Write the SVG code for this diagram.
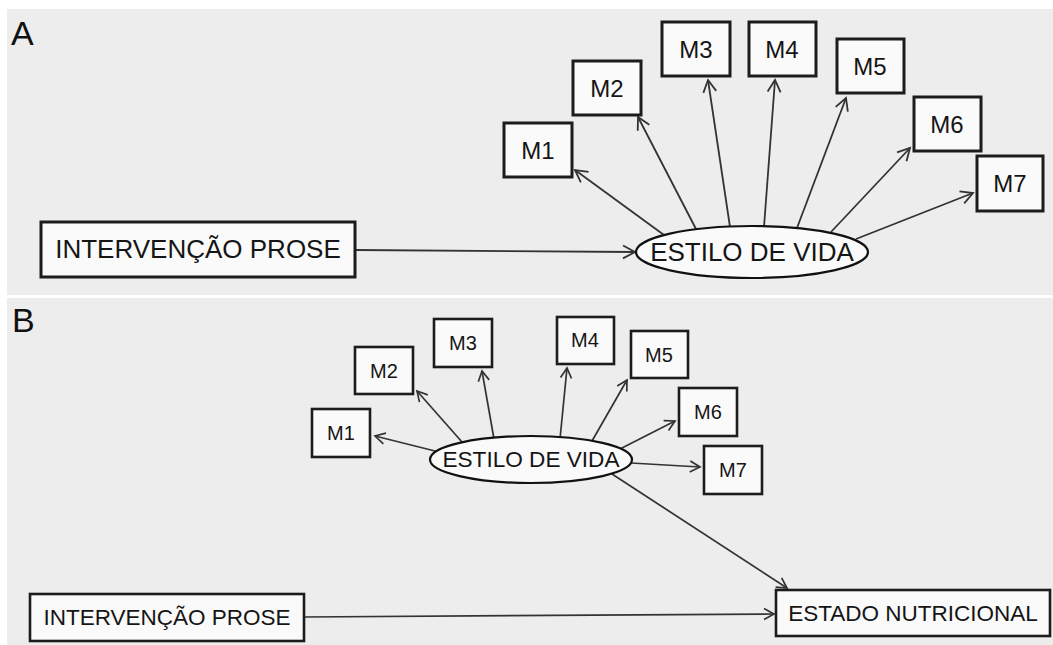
<svg xmlns="http://www.w3.org/2000/svg" width="1053" height="645" viewBox="0 0 1053 645">
  <style>
    .panel { fill: #ededed; }
    .box { fill: #fafafa; stroke: #1c1c1c; stroke-width: 3; }
    .boxB { fill: #fafafa; stroke: #1c1c1c; stroke-width: 2.6; }
    .ell { fill: #fafafa; stroke: #111; stroke-width: 2.2; }
    .lbl { font-family: "Liberation Sans", Arial, sans-serif; fill: #151515; text-anchor: middle; }
    .tag { font-family: "Liberation Sans", Arial, sans-serif; fill: #111; font-size: 34px; }
    .edgeA { stroke: #333; stroke-width: 1.8; fill: none; marker-end: url(#headA); }
    .edgeB { stroke: #333; stroke-width: 1.7; fill: none; marker-end: url(#headB); }
  </style>
  <defs>
    <marker id="headA" markerUnits="userSpaceOnUse" markerWidth="16" markerHeight="16" viewBox="-14 -8 16 16" refX="0" refY="0" orient="auto" overflow="visible">
      <path d="M-12,-6.5 L0,0 L-12,6.5" fill="none" stroke="#333" stroke-width="1.8"/>
    </marker>
    <marker id="headB" markerUnits="userSpaceOnUse" markerWidth="14" markerHeight="14" viewBox="-12 -7 14 14" refX="0" refY="0" orient="auto" overflow="visible">
      <path d="M-10,-5.5 L0,0 L-10,5.5" fill="none" stroke="#333" stroke-width="1.7"/>
    </marker>
  </defs>

  <rect width="1053" height="645" fill="#ffffff"/>
  <rect class="panel" x="7" y="9" width="1046" height="286"/>
  <rect class="panel" x="7" y="298" width="1046" height="347"/>
  <text class="tag" x="11" y="45">A</text>
  <text class="tag" x="12" y="332">B</text>

  <!-- connectors -->
  <g id="connectors">
    <!-- panel A -->
    <line class="edgeA" x1="355" y1="250" x2="635" y2="252"/>
    <line class="edgeA" x1="664" y1="235" x2="575" y2="170"/>
    <line class="edgeA" x1="696" y1="229" x2="638" y2="117"/>
    <line class="edgeA" x1="730" y1="227" x2="708" y2="80"/>
    <line class="edgeA" x1="764" y1="227" x2="775" y2="80"/>
    <line class="edgeA" x1="797" y1="228" x2="846" y2="98"/>
    <line class="edgeA" x1="831" y1="232" x2="910" y2="148"/>
    <line class="edgeA" x1="856" y1="239" x2="973" y2="193"/>
    <!-- panel B -->
    <line class="edgeB" x1="304" y1="617" x2="774" y2="614"/>
    <line class="edgeB" x1="435" y1="451" x2="375" y2="436"/>
    <line class="edgeB" x1="462" y1="442" x2="417" y2="391"/>
    <line class="edgeB" x1="494" y1="439" x2="482" y2="371"/>
    <line class="edgeB" x1="560" y1="439" x2="567" y2="368"/>
    <line class="edgeB" x1="592" y1="441" x2="627" y2="380"/>
    <line class="edgeB" x1="620" y1="449" x2="675" y2="421"/>
    <line class="edgeB" x1="631" y1="463" x2="700" y2="467"/>
    <line class="edgeB" x1="612" y1="474" x2="787" y2="588"/>
  </g>

  <!-- panel A nodes -->
  <g id="a-intervencao">
    <rect class="box" x="41" y="222" width="314" height="55"/>
    <text class="lbl" x="198" y="258" font-size="26">INTERVENÇÃO PROSE</text>
  </g>
  <g id="a-estilo">
    <ellipse class="ell" cx="752" cy="252" rx="116" ry="26"/>
    <text class="lbl" x="752" y="261" font-size="26">ESTILO DE VIDA</text>
  </g>
  <g id="a-m1"><rect class="box" x="504" y="123" width="68" height="54"/><text class="lbl" x="538" y="159" font-size="24">M1</text></g>
  <g id="a-m2"><rect class="box" x="573" y="61" width="68" height="54"/><text class="lbl" x="607" y="97" font-size="24">M2</text></g>
  <g id="a-m3"><rect class="box" x="662" y="22" width="68" height="54"/><text class="lbl" x="696" y="58" font-size="24">M3</text></g>
  <g id="a-m4"><rect class="box" x="749" y="22" width="67" height="54"/><text class="lbl" x="782" y="58" font-size="24">M4</text></g>
  <g id="a-m5"><rect class="box" x="837" y="39" width="67" height="54"/><text class="lbl" x="870" y="75" font-size="24">M5</text></g>
  <g id="a-m6"><rect class="box" x="914" y="97" width="67" height="54"/><text class="lbl" x="947" y="133" font-size="24">M6</text></g>
  <g id="a-m7"><rect class="box" x="977" y="156" width="66" height="55"/><text class="lbl" x="1010" y="192" font-size="24">M7</text></g>

  <!-- panel B nodes -->
  <g id="b-intervencao">
    <rect class="boxB" x="30" y="594" width="274" height="47"/>
    <text class="lbl" x="167" y="625" font-size="22.5">INTERVENÇÃO PROSE</text>
  </g>
  <g id="b-estado">
    <rect class="boxB" x="776" y="590" width="274" height="46"/>
    <text class="lbl" x="913" y="621" font-size="22.5">ESTADO NUTRICIONAL</text>
  </g>
  <g id="b-estilo">
    <ellipse class="ell" cx="531" cy="459.5" rx="101" ry="23.5"/>
    <text class="lbl" x="531" y="467" font-size="22.6">ESTILO DE VIDA</text>
  </g>
  <g id="b-m1"><rect class="boxB" x="312" y="409" width="58" height="48"/><text class="lbl" x="341" y="440" font-size="20">M1</text></g>
  <g id="b-m2"><rect class="boxB" x="355" y="347" width="58" height="47"/><text class="lbl" x="384" y="378" font-size="20">M2</text></g>
  <g id="b-m3"><rect class="boxB" x="434" y="319" width="58" height="48"/><text class="lbl" x="463" y="350" font-size="20">M3</text></g>
  <g id="b-m4"><rect class="boxB" x="557" y="317" width="57" height="47"/><text class="lbl" x="585" y="347" font-size="20">M4</text></g>
  <g id="b-m5"><rect class="boxB" x="631" y="331" width="57" height="47"/><text class="lbl" x="659" y="362" font-size="20">M5</text></g>
  <g id="b-m6"><rect class="boxB" x="679" y="388" width="58" height="48"/><text class="lbl" x="708" y="419" font-size="20">M6</text></g>
  <g id="b-m7"><rect class="boxB" x="704" y="446" width="58" height="48"/><text class="lbl" x="733" y="477" font-size="20">M7</text></g>
</svg>
